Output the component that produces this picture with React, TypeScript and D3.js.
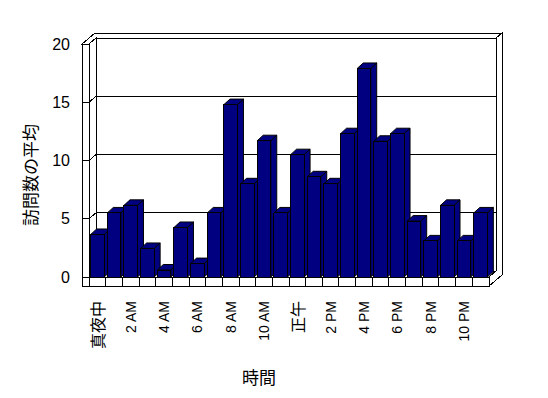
import React, { useEffect, useRef } from 'react';
import * as d3 from 'd3';

// hourly categories (only every second one gets a label)
const hours = [
  '真夜中', '1 AM', '2 AM', '3 AM', '4 AM', '5 AM', '6 AM', '7 AM', '8 AM', '9 AM', '10 AM', '11 AM',
  '正午', '1 PM', '2 PM', '3 PM', '4 PM', '5 PM', '6 PM', '7 PM', '8 PM', '9 PM', '10 PM', '11 PM'
];
const visits = [
  3.65, 5.5, 6.15, 2.45, 0.6, 4.25, 1.15, 5.5, 14.8, 8.0, 11.7, 5.5,
  10.5, 8.6, 8.0, 12.3, 17.9, 11.65, 12.3, 4.8, 3.1, 6.15, 3.1, 5.5
];
const yTicks = [0, 5, 10, 15, 20];
const yTitle = '訪問数の平均';
const xTitle = '時間';

const W = 548;
const H = 398;

export default function App() {
  const ref = useRef<SVGSVGElement>(null);

  useEffect(() => {
    const svg = d3.select(ref.current);
    svg.selectAll('*').remove();

    const x = d3.scaleBand<string>()
      .domain(hours)
      .range([89, 489])
      .paddingInner(0.19)
      .paddingOuter(0.1);

    const y = d3.scaleLinear().domain([0, 20]).range([277, 44]);

    const x0 = 89, x1 = 489, L = 82;
    const yTop = y(20), yBot = y(0), yFloor = yBot + 9;
    const D = [7, -6];   // chart depth
    const T = [6, -5];   // wall thickness
    const B = [6, -5.5]; // bar depth
    const bw = x.bandwidth();
    const step = x.step();

    const stroke = (s: any) => s.attr('stroke', '#000').attr('stroke-width', 1);
    const poly = (pts: number[][]) => pts.map(p => p.join(',')).join(' ');

    const g = svg.append('g').attr('shape-rendering', 'crispEdges');

    // back wall face
    stroke(g.append('rect')
      .attr('x', x0 + D[0]).attr('y', yTop + D[1])
      .attr('width', x1 - x0).attr('height', yBot - yTop)
      .attr('fill', '#fff'));

    // top slab of walls
    stroke(g.append('polygon').attr('fill', '#fff').attr('points', poly([
      [L, yTop], [x0, yTop], [x0 + D[0], yTop + D[1]], [x1 + D[0], yTop + D[1]],
      [x1 + D[0] + T[0], yTop + D[1] + T[1]], [L + D[0] + T[0], yTop + D[1] + T[1]]
    ])));

    // right side of back wall
    stroke(g.append('polygon').attr('fill', '#fff').attr('points', poly([
      [x1 + D[0], yTop + D[1]], [x1 + D[0] + T[0], yTop + D[1] + T[1]],
      [x1 + D[0] + T[0], yFloor + D[1] + T[1]], [x1, yFloor], [x1, yBot], [x1 + D[0], yBot + D[1]]
    ])));

    // left wall inner face
    stroke(g.append('polygon').attr('fill', '#fff').attr('points', poly([
      [x0, yTop], [x0 + D[0], yTop + D[1]], [x0 + D[0], yBot + D[1]], [x0, yBot]
    ])));

    // left wall front strip
    stroke(g.append('rect')
      .attr('x', L).attr('y', yTop)
      .attr('width', x0 - L).attr('height', yFloor - yTop)
      .attr('fill', '#fff'));

    // gridlines
    const grid = g.append('g').attr('fill', 'none');
    yTicks.forEach(v => {
      const yy = y(v);
      stroke(grid.append('line').attr('x1', L).attr('x2', x0).attr('y1', yy).attr('y2', yy));
      if (v > 0 && v < 20) {
        stroke(grid.append('line').attr('x1', x0).attr('y1', yy).attr('x2', x0 + D[0]).attr('y2', yy + D[1]));
        stroke(grid.append('line').attr('x1', x0 + D[0]).attr('y1', yy + D[1]).attr('x2', x1 + D[0]).attr('y2', yy + D[1]));
      }
    });

    // floor front strip
    stroke(g.append('rect')
      .attr('x', x0).attr('y', yBot)
      .attr('width', x1 - x0).attr('height', yFloor - yBot)
      .attr('fill', '#fff'));
    hours.slice(0, -1).forEach(h => {
      const xx = (x(h) as number) + bw + (step - bw) / 2;
      stroke(g.append('line').attr('x1', xx).attr('x2', xx).attr('y1', yBot).attr('y2', yFloor));
    });

    // bars, drawn left to right so each covers the previous side face
    const bars = svg.append('g').attr('fill', '#000080').attr('stroke', '#000').attr('stroke-linejoin', 'round');
    hours.forEach((h, i) => {
      const bx = x(h) as number;
      const by = y(visits[i]);
      const bar = bars.append('g');
      bar.append('polygon').attr('points', poly([
        [bx + bw, by], [bx + bw + B[0], by + B[1]], [bx + bw + B[0], yBot + B[1]], [bx + bw, yBot]
      ]));
      bar.append('polygon').attr('points', poly([
        [bx, by], [bx + B[0], by + B[1]], [bx + bw + B[0], by + B[1]], [bx + bw, by]
      ]));
      bar.append('rect').attr('x', bx).attr('y', by).attr('width', bw).attr('height', yBot - by)
        .attr('shape-rendering', 'crispEdges');
    });

    // y tick labels
    svg.append('g')
      .selectAll('text')
      .data(yTicks)
      .enter()
        .append('text')
          .attr('x', 70)
          .attr('y', d => y(d))
          .attr('text-anchor', 'end')
          .attr('dominant-baseline', 'central')
          .attr('font-family', 'Liberation Sans, sans-serif')
          .attr('font-size', 16)
          .text(d => d);

    // x tick labels (every second hour, rotated)
    svg.append('g')
      .selectAll('text')
      .data(hours.filter((_, i) => i % 2 === 0))
      .enter()
        .append('text')
          .attr('transform', d => `translate(${(x(d) as number) + bw / 2},${yFloor + 15}) rotate(-90)`)
          .attr('text-anchor', 'end')
          .attr('dominant-baseline', 'central')
          .attr('font-family', d => /[\u3000-\u9fff]/.test(d) ? 'Noto Sans CJK JP' : 'Liberation Sans, sans-serif')
          .attr('font-size', d => /[\u3000-\u9fff]/.test(d) ? 16 : 14)
          .text(d => d);

    // axis titles
    svg.append('text')
      .attr('transform', `translate(29,175) rotate(-90)`)
      .attr('text-anchor', 'middle')
      .attr('dominant-baseline', 'central')
      .attr('font-family', 'Noto Sans CJK JP')
      .attr('font-size', 17)
      .text(yTitle);

    svg.append('text')
      .attr('x', 259)
      .attr('y', 376)
      .attr('text-anchor', 'middle')
      .attr('dominant-baseline', 'central')
      .attr('font-family', 'Noto Sans CJK JP')
      .attr('font-size', 17)
      .text(xTitle);
  }, []);

  return (
    <svg ref={ref} width={W} height={H}
      style={{ position: 'absolute', left: 0, top: 0, background: '#fff' }} />
  );
}
